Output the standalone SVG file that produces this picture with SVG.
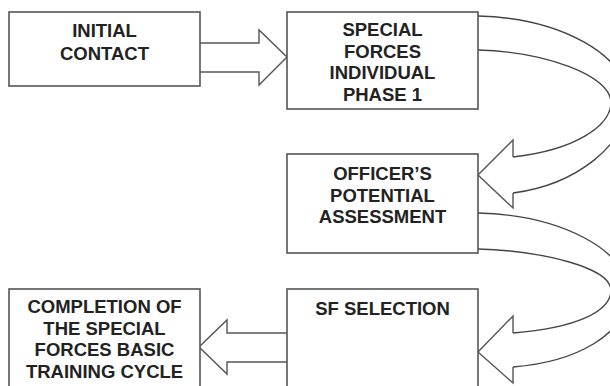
<svg xmlns="http://www.w3.org/2000/svg" width="610" height="386" viewBox="0 0 610 386">
<style>
.box{fill:#fff;stroke:#555;stroke-width:1.6}
.arr{fill:#fff;stroke:#555;stroke-width:1.4;stroke-linejoin:miter}
.curve{fill:none;stroke:#444;stroke-width:1.4}
text{font-family:"Liberation Sans",Arial,sans-serif;font-weight:bold;font-size:18.5px;fill:#222;text-anchor:middle}
</style>
<rect width="610" height="386" fill="#fff"/>
<g id="connectors">
  <path class="arr" d="M200,43 H259 V30 L287,57 L259,85 V72 H200"/>
  <path class="arr" d="M287,333 H227 V320 L199,347 L227,374 V362 H287"/>
  <path class="curve" d="M478,16 C560,18 628,55 628,100 C628,145 575,185 513,193"/>
  <path class="curve" d="M478,50 C545,52 610,75 611,102 C611,126 575,150 513,157"/>
  <path class="arr" d="M513,157 V140 L478,175 L513,208 V193"/>
  <path class="curve" d="M478,213 C560,215 628,250 628,292 C628,335 575,362 513,367"/>
  <path class="curve" d="M478,249 C545,251 610,268 611,290 C611,312 575,328 513,333"/>
  <path class="arr" d="M513,333 V316 L478,352 L513,383 V367"/>
</g>
<g id="initial-contact">
  <rect class="box" x="9" y="12" width="191" height="74"/>
  <text x="104.5" y="37">INITIAL</text>
  <text x="104.5" y="59.5">CONTACT</text>
</g>
<g id="sf-individual">
  <rect class="box" x="287" y="12" width="191" height="97"/>
  <text x="382.5" y="36">SPECIAL</text>
  <text x="382.5" y="57.5">FORCES</text>
  <text x="382.5" y="79">INDIVIDUAL</text>
  <text x="382.5" y="100.5">PHASE 1</text>
</g>
<g id="officers-assessment">
  <rect class="box" x="287" y="154" width="191" height="99"/>
  <text x="382.5" y="180">OFFICER’S</text>
  <text x="382.5" y="201.7">POTENTIAL</text>
  <text x="382.5" y="223.3">ASSESSMENT</text>
</g>
<g id="sf-selection">
  <rect class="box" x="287" y="289" width="191" height="110"/>
  <text x="382.5" y="315">SF SELECTION</text>
</g>
<g id="completion">
  <rect class="box" x="9" y="289" width="191" height="110"/>
  <text x="104.5" y="313.3">COMPLETION OF</text>
  <text x="104.5" y="334.5">THE SPECIAL</text>
  <text x="104.5" y="355.7">FORCES BASIC</text>
  <text x="104.5" y="377.5">TRAINING CYCLE</text>
</g>
</svg>
